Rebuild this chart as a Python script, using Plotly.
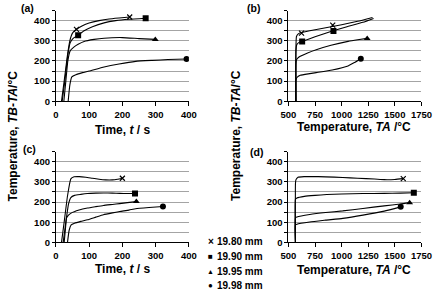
import plotly.graph_objects as go

# ---------------- data ----------------
labels = ["19.80 mm", "19.90 mm", "19.95 mm", "19.98 mm"]
symbols = ["x-thin", "square", "triangle-up", "circle"]

# panel (a): time vs TB-TA
a_t = [
    [17, 25, 35, 42, 50, 62, 80, 100, 130, 160, 190, 222],
    [19, 27, 36, 43, 52, 67, 85, 110, 145, 180, 220, 270],
    [24, 30, 36, 43, 55, 67, 85, 115, 145, 200, 250, 299],
    [37, 42, 48, 60, 80, 100, 145, 190, 240, 290, 337, 393],
]
a_y = [
    [0, 100, 230, 300, 338, 357, 375, 388, 400, 408, 413, 418],
    [0, 100, 230, 290, 312, 328, 350, 370, 389, 400, 407, 412],
    [0, 100, 200, 250, 270, 283, 297, 307, 313, 316, 311, 307],
    [0, 80, 121, 132, 142, 150, 170, 185, 198, 203, 207, 210],
]
a_mt = [[62, 222], [67, 270], [299], [393]]
a_my = [[357, 418], [328, 412], [307], [210]]

# panel (b): TA vs TB-TA
b_x = [
    [570, 570, 575, 590, 611, 700, 851, 1000, 1150, 1290],
    [570, 570, 578, 600, 635, 750, 920, 1050, 1200, 1300],
    [570, 570, 575, 590, 611, 680, 761, 900, 1060, 1150, 1240],
    [570, 570, 580, 611, 700, 761, 911, 1060, 1120, 1180],
]
b_y = [
    [0, 250, 320, 333, 340, 350, 365, 380, 397, 416],
    [0, 240, 280, 292, 298, 320, 350, 370, 392, 411],
    [0, 180, 205, 215, 223, 240, 256, 278, 297, 305, 312],
    [0, 105, 118, 129, 137, 142, 155, 175, 192, 211],
]
b_mx = [[623, 916], [629, 923], [1240], [1180]]
b_my = [[338, 378], [297, 349], [312], [211]]

# panel (c): time vs TB-TA
c_t = [
    [17, 25, 35, 45, 55, 70, 90, 110, 130, 150, 170, 185, 200],
    [22, 30, 38, 45, 56, 75, 95, 120, 143, 170, 192, 215, 238],
    [25, 29, 32, 38, 46, 70, 95, 120, 143, 170, 192, 215, 242],
    [35, 40, 46, 56, 75, 95, 120, 143, 170, 192, 220, 240, 280, 322],
]
c_y = [
    [0, 100, 230, 315, 325, 326, 323, 318, 313, 310, 310, 313, 318],
    [0, 100, 190, 222, 233, 238, 242, 244, 245, 244, 243, 242, 242],
    [0, 70, 120, 135, 145, 160, 170, 177, 183, 188, 192, 197, 202],
    [0, 60, 87, 95, 104, 112, 125, 137, 146, 153, 160, 167, 173, 178],
]
c_mt = [[200], [238], [242], [322]]
c_my = [[318], [242], [202], [178]]

# panel (d): TA vs TB-TA
d_x = [
    [566, 566, 570, 590, 650, 710, 850, 1010, 1150, 1309, 1400, 1500, 1579],
    [566, 566, 580, 650, 750, 860, 1000, 1200, 1400, 1550, 1678],
    [566, 566, 580, 700, 850, 1010, 1200, 1400, 1550, 1639],
    [566, 566, 580, 700, 850, 1010, 1200, 1400, 1555],
]
d_y = [
    [0, 290, 310, 323, 326, 327, 325, 322, 318, 314, 311, 312, 316],
    [0, 214, 220, 228, 233, 237, 240, 242, 243, 244, 246],
    [0, 122, 126, 138, 148, 156, 168, 181, 190, 197],
    [0, 86, 90, 101, 110, 119, 135, 155, 176],
]
d_mx = [[1579], [1678], [1639], [1555]]
d_my = [[316], [246], [197], [176]]

y_ticks = [0, 100, 200, 300, 400]
t_ticks = [0, 100, 200, 300, 400]
ta_ticks = [500, 750, 1000, 1250, 1500, 1750]

# ---------------- figure ----------------
W, H = 443, 296
FONT = "Liberation Sans, Arial, sans-serif"
fig = go.Figure()

panels = [
    ("x", "y", a_t, a_y, a_mt, a_my),
    ("x2", "y2", b_x, b_y, b_mx, b_my),
    ("x3", "y3", c_t, c_y, c_mt, c_my),
    ("x4", "y4", d_x, d_y, d_mx, d_my),
]
msize = [5, 6, 6, 6]
for xa, ya, xs, ys, mxs, mys in panels:
    for i in range(4):
        fig.add_trace(go.Scatter(x=xs[i], y=ys[i], xaxis=xa, yaxis=ya, mode="lines",
                                 line=dict(color="black", width=1.1, shape="spline", smoothing=0.4),
                                 showlegend=False, hoverinfo="skip"))
        fig.add_trace(go.Scatter(x=mxs[i], y=mys[i], xaxis=xa, yaxis=ya, mode="markers",
                                 marker=dict(symbol=symbols[i], size=msize[i], color="black",
                                             line=dict(color="black", width=1.2 if i == 0 else 0)),
                                 showlegend=False, hoverinfo="skip"))

xl = [50 / W, 189 / W]
xr = [293 / W, 432 / W]
yt = [1 - 103 / H, 1 - 10.75 / H]
yb = [1 - 246.5 / H, 1 - 154.25 / H]

tickfont = dict(family=FONT, size=9.5, color="black", weight="bold")
GRID = "#a4a4a4"


def yaxis(dom, anchor):
    return dict(domain=dom, anchor=anchor, range=[0, 450], tickvals=y_ticks,
                showgrid=True, gridcolor=GRID, gridwidth=1,
                minor=dict(dtick=50, tick0=0, showgrid=True, gridcolor=GRID, gridwidth=1,
                           ticks="outside", ticklen=3, tickcolor="black"),
                ticks="outside", ticklen=3, tickcolor="black",
                showline=True, linecolor="black", linewidth=1,
                zeroline=False, tickfont=tickfont, fixedrange=True)


def xaxis(dom, anchor, rng, tv):
    return dict(domain=dom, anchor=anchor, range=rng, tickvals=tv,
                showgrid=False, ticks="outside", ticklen=4, tickcolor="black",
                showline=True, linecolor="black", linewidth=1,
                zeroline=False, tickfont=tickfont, fixedrange=True)


fig.update_layout(
    width=W, height=H, margin=dict(l=0, r=0, t=0, b=0),
    paper_bgcolor="white", plot_bgcolor="white",
    xaxis=xaxis(xl, "y", [0, 400], t_ticks),
    yaxis=yaxis(yt, "x"),
    xaxis2=xaxis(xr, "y2", [500, 1750], ta_ticks),
    yaxis2=yaxis(yt, "x2"),
    xaxis3=xaxis(xl, "y3", [0, 400], t_ticks),
    yaxis3=yaxis(yb, "x3"),
    xaxis4=xaxis(xr, "y4", [500, 1750], ta_ticks),
    yaxis4=yaxis(yb, "x4"),
    showlegend=False,
)

ann = []


def txt(x, y, s, size=12, angle=0, xanchor="center"):
    ann.append(dict(x=x / W, y=1 - y / H, xref="paper", yref="paper", text=s, showarrow=False,
                    textangle=angle, xanchor=xanchor, yanchor="middle",
                    font=dict(family=FONT, size=size, color="black", weight="bold")))


time_title = "Time, <i>t</i> / s"
ta_title = "Temperature, <i>TA</i> /°C"
y_title = "Temperature, <i>TB</i>-<i>TA</i>/°C"

txt(119.5, 132, time_title)
txt(362, 129, ta_title)
txt(119.5, 274, time_title)
txt(362, 275, ta_title)
txt(5, 138, y_title, angle=-90)
txt(237.5, 138, y_title, angle=-90)

txt(20, 8, "(a)", size=10.5)
txt(257, 8, "(b)", size=10.5)
txt(22, 152, "(c)", size=10.5)
txt(260, 155, "(d)", size=10.5)

glyphs = ["×", "■", "▲", "●"]
gsize = [10, 8, 7, 8]
rows = [246, 261, 276, 290]
for g, gs, lab, ry in zip(glyphs, gsize, labels, rows):
    txt(212, ry, g, size=gs)
    txt(216, ry, lab, size=10, xanchor="left")

fig.update_layout(annotations=ann)
fig.write_html("out.html")
